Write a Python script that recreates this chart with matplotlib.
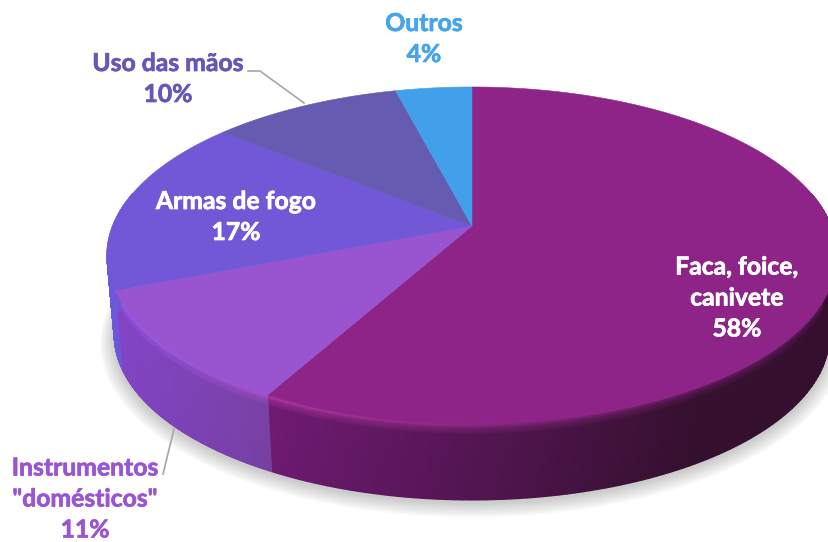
import numpy as np
import matplotlib
matplotlib.use('Agg')
import matplotlib.pyplot as plt
import matplotlib.patheffects as pe
from matplotlib.colors import to_rgb

# data, clockwise from 12 o'clock
categories = ['Faca, foice,\ncanivete', 'Instrumentos\n"domésticos"', 'Armas de fogo', 'Uso das mãos', 'Outros']
values = [58, 11, 17, 10, 4]

top_colors = ['#8E2488', '#9955D0', '#7258D6', '#655BB0', '#42A0EA']
side_left = ['#701B74', '#8446C8', '#6E5CE0', '#5A5098', '#3A8FD0']
side_right = ['#36102F', '#7A42A6', '#7A50D0', '#5A5098', '#3A8FD0']
rim_left = ['#B83AA8', '#9C64F8', '#8478F8', '#655BB0', '#42A0EA']
rim_right = ['#6A1C66', '#B050C8', '#9C64F8', '#655BB0', '#42A0EA']
label_colors = ['white', '#9A55D5', 'white', '#6559B8', '#45A5EC']

# pixel layout of the tilted disc (perspective)
CX, CY = 472, 226
A, B, K = 359.4, 123.8, 0.175
DEPTH = 80
BOTTOM_SCALE = 0.98


def top_edge(theta, r=1.0):
    """theta in degrees clockwise from the top, returns pixel x, y of the top face."""
    rad = np.radians(theta)
    u, v = r * np.sin(rad), r * np.cos(rad)
    w = 1 + K * v
    return CX + A * u / w, (CY - B * v) / w


def bottom_edge(theta):
    x, y = top_edge(theta)
    return CX + (x - CX) * BOTTOM_SCALE, CY + (y - CY) * BOTTOM_SCALE + DEPTH


fig = plt.figure(figsize=(8.29, 5.42), dpi=100)
ax = fig.add_axes([0, 0, 1, 1])
ax.set_xlim(0, 829)
ax.set_ylim(542, 0)
ax.axis('off')
plt.rcParams['font.family'] = ['Lato', 'DejaVu Sans']

# soft shadow under the disc
all_theta = np.linspace(0, 360, 361)
sx, sy = bottom_edge(all_theta)
for grow in np.arange(14, 0, -1.5):
    ax.fill(CX + (sx - CX) * (1 + grow / 360), CY + (sy - CY) * (1 + grow / 270) + 3,
            color='#404040', alpha=0.028, lw=0, zorder=1)

edges = np.concatenate([[0], np.cumsum(values)]) * 360 / sum(values)

# side wall
levels = np.array([0, 0.05, 0.14, 1.0])
for i in range(len(values)):
    start, end = max(edges[i], 78), min(edges[i + 1], 282)
    if start >= end:
        continue
    th = np.linspace(start, end, 120)
    xt, yt = top_edge(th)
    xb, yb = bottom_edge(th)
    X = np.outer(1 - levels, xt) + np.outer(levels, xb)
    Y = np.outer(1 - levels, yt) + np.outer(levels, yb)
    # colour runs from the left end of the slice to the right, the big one stops at x=700
    x_end = 700 if i == 0 else xt.max()
    f = np.clip((xt - xt.min()) / (x_end - xt.min()), 0, 1)[:, None]
    side = np.array(to_rgb(side_left[i])) * (1 - f) + np.array(to_rgb(side_right[i])) * f
    rim = np.array(to_rgb(rim_left[i])) * (1 - f) + np.array(to_rgb(rim_right[i])) * f
    C = np.stack([rim, rim * 0.5 + side * 0.5, side, side * 0.97])
    ax.pcolormesh(X, Y, C, shading='gouraud', zorder=2)

# top face
for i in range(len(values)):
    th = np.linspace(edges[i], edges[i + 1], 200)
    x, y = top_edge(th)
    ax.fill(np.r_[CX, x], np.r_[CY, y], color=top_colors[i], lw=0.4, ec=top_colors[i], zorder=3)

# labels, in the order of categories
label_x = [737, 85, 236, 168, 424]
label_y = [298, 499, 217, 79, 39]
for i, name in enumerate(categories):
    t = ax.text(label_x[i], label_y[i], f'{name}\n{values[i]}%', color=label_colors[i], ha='center', va='center',
                fontsize=17.8, fontweight='bold', linespacing=1.42, zorder=5)
    # Lato bold is a bit thin next to the original face
    t.set_path_effects([pe.withStroke(linewidth=0.5, foreground=label_colors[i])])

# leader lines
ax.plot([248, 260, 304], [71, 71, 103], color='#A6A6A6', lw=1.2, zorder=4)
ax.plot([163, 174], [474, 429], color='#A6A6A6', lw=1.2, zorder=4)

fig.savefig('out.png', dpi=100)
